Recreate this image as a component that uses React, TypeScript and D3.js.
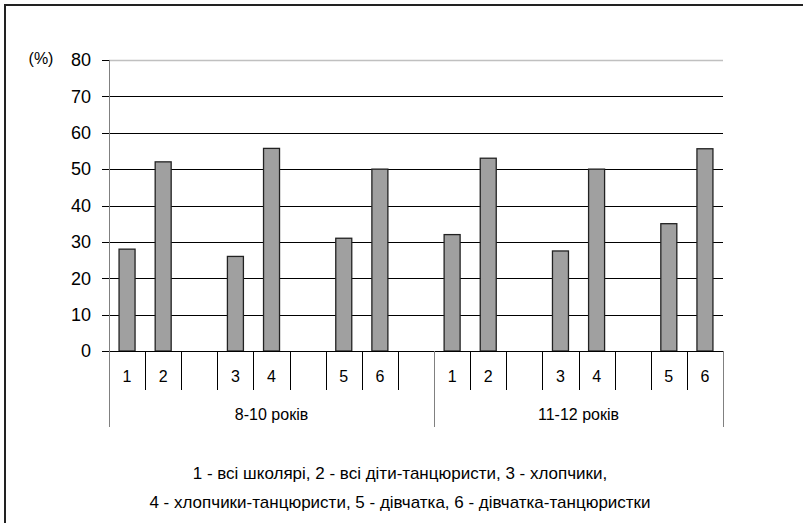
import React from "react";
import * as d3 from "d3";

// Age groups along the lower axis
const groups = ["8-10 років", "11-12 років"];
// Slot labels inside each age group (empty strings are spacer slots)
const slotLabels8_10 = ["1", "2", "", "3", "4", "", "5", "6", ""];
const slotLabels11_12 = ["1", "2", "", "3", "4", "", "5", "6"];
// Percentages for categories 1..6 in each age group
const values8_10 = [28, 52, 26, 55.7, 31, 50];
const values11_12 = [32, 53, 27.5, 50, 35, 55.6];
// Value axis ticks
const yTicks = [0, 10, 20, 30, 40, 50, 60, 70, 80];
const legendLines = [
  "1 - всі школярі, 2 - всі діти-танцюристи, 3 - хлопчики,",
  "4 - хлопчики-танцюристи, 5 - дівчатка, 6 - дівчатка-танцюристки",
];

const W = 803;
const H = 523;
const left = 109;
const right = 723;
const top = 60;
const bottom = 351;
const font = "'Liberation Sans', Arial, sans-serif";

type Slot = { key: string; label: string; group: number; value: number | null };

function buildSlots(): Slot[] {
  const out: Slot[] = [];
  const sets = [
    { labels: slotLabels8_10, values: values8_10 },
    { labels: slotLabels11_12, values: values11_12 },
  ];
  sets.forEach((s, g) => {
    let vi = 0;
    s.labels.forEach((lab, i) => {
      const v = lab === "" ? null : s.values[vi++];
      out.push({ key: `${g}-${i}`, label: lab, group: g, value: v });
    });
  });
  return out;
}

export default function App() {
  const slots = buildSlots();
  const x = d3
    .scaleBand<string>()
    .domain(slots.map((s) => s.key))
    .range([left, right])
    .paddingInner(0)
    .paddingOuter(0);
  const y = d3.scaleLinear().domain([0, 80]).range([bottom, top]);
  const bw = x.bandwidth();
  const barW = 16;

  // group boundaries in slot index terms
  const groupStarts: number[] = [];
  const groupEnds: number[] = [];
  groups.forEach((_, g) => {
    const idx = slots.map((s, i) => (s.group === g ? i : -1)).filter((i) => i >= 0);
    groupStarts.push(idx[0]);
    groupEnds.push(idx[idx.length - 1] + 1);
  });
  const slotEdge = (i: number) => left + i * bw;

  return (
    <svg
      width={W}
      height={H}
      style={{ position: "absolute", left: 0, top: 0, background: "#fff" }}
      fontFamily={font}
    >
      <rect x={0} y={0} width={W} height={H} fill="#fff" />
      {/* outer frame */}
      <rect x={5} y={5} width={W + 10} height={H + 10} fill="none" stroke="#222" strokeWidth={2} />

      {/* gridlines and value ticks */}
      {yTicks.map((t) => (
        <g key={t}>
          <line
            x1={left - 7}
            x2={t === 80 ? left : right}
            y1={Math.round(y(t)) + 0.5}
            y2={Math.round(y(t)) + 0.5}
            stroke="#000"
            strokeWidth={1}
          />
          <text
            x={91}
            y={y(t)}
            dy="0.35em"
            textAnchor="end"
            fontSize={18}
            fill="#000"
          >
            {t}
          </text>
        </g>
      ))}
      {/* top plot edge */}
      <line x1={left} x2={right} y1={Math.round(y(80)) + 0.5} y2={Math.round(y(80)) + 0.5} stroke="#c0c0c0" strokeWidth={1.5} />
      <text x={41} y={y(80) - 2} dy="0.35em" textAnchor="middle" fontSize={16} fill="#000">
        (%)
      </text>

      {/* value axis line */}
      <line x1={left + 0.5} x2={left + 0.5} y1={y(80)} y2={bottom} stroke="#808080" strokeWidth={1} />

      {/* bars */}
      {slots
        .filter((s) => s.value !== null)
        .map((s) => {
          const cx = (x(s.key) as number) + bw / 2;
          const yt = y(s.value as number);
          return (
            <rect
              key={s.key}
              x={cx - barW / 2}
              y={yt}
              width={barW}
              height={bottom - yt}
              fill="#a0a0a0"
              stroke="#222"
              strokeWidth={1.3}
            />
          );
        })}

      {/* baseline */}
      <line x1={left - 7} x2={right} y1={bottom + 0.5} y2={bottom + 0.5} stroke="#000" strokeWidth={1} />

      {/* slot separators */}
      {d3.range(slots.length + 1).map((i) => {
        const isGroupEdge = groupStarts.includes(i) || groupEnds.includes(i);
        const xx = Math.round(slotEdge(i)) + 0.5;
        return (
          <line
            key={i}
            x1={xx}
            x2={xx}
            y1={bottom}
            y2={isGroupEdge ? 427 : 390}
            stroke={isGroupEdge ? "#808080" : "#000"}
            strokeWidth={1}
          />
        );
      })}

      {/* slot labels */}
      {slots.map((s) =>
        s.label ? (
          <text
            key={s.key}
            x={(x(s.key) as number) + bw / 2}
            y={382}
            textAnchor="middle"
            fontSize={16}
            fill="#000"
          >
            {s.label}
          </text>
        ) : null
      )}

      {/* group labels */}
      {groups.map((g, gi) => (
        <text
          key={g}
          x={(slotEdge(groupStarts[gi]) + slotEdge(groupEnds[gi])) / 2}
          y={420}
          textAnchor="middle"
          fontSize={16}
          fill="#000"
        >
          {g}
        </text>
      ))}

      {/* legend */}
      {legendLines.map((l, i) => (
        <text key={i} x={400} y={479 + i * 28.5} textAnchor="middle" fontSize={17} fill="#000">
          {l}
        </text>
      ))}
    </svg>
  );
}
